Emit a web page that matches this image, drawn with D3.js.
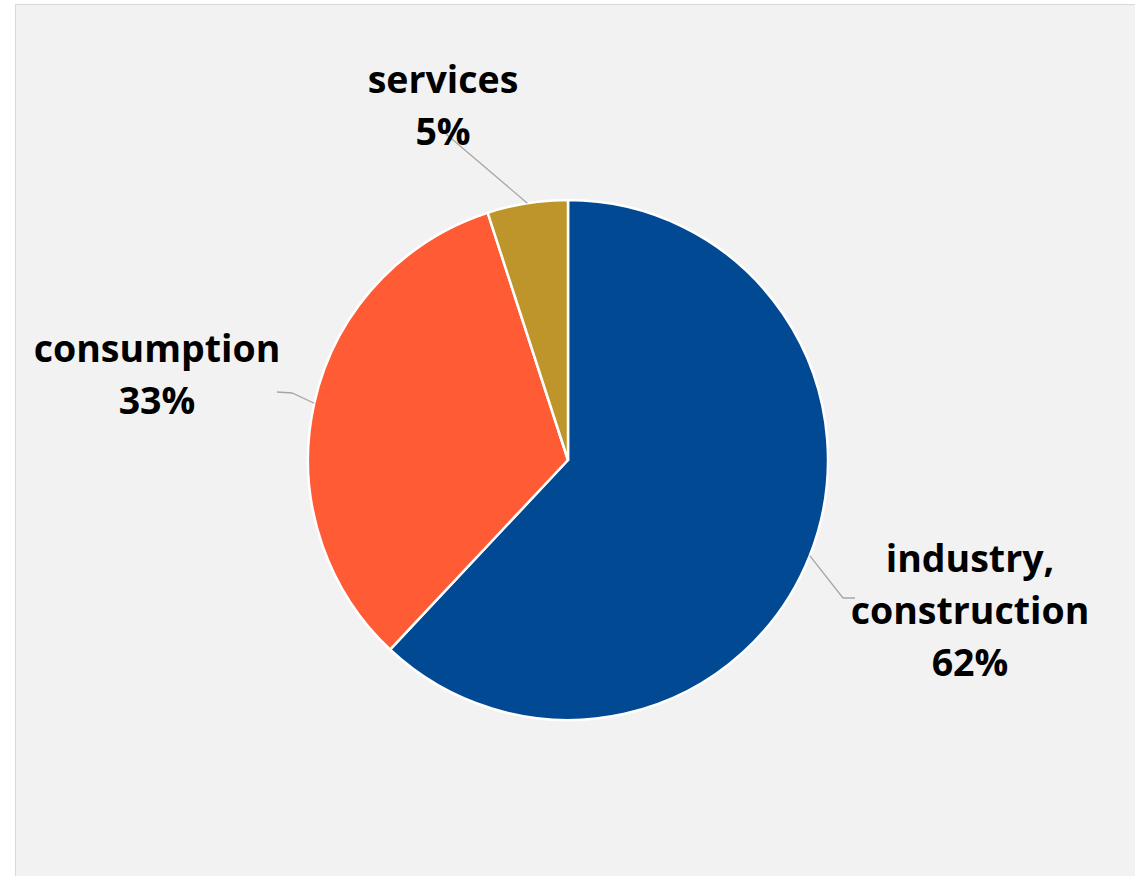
<!DOCTYPE html>
<html>
<head>
<meta charset="utf-8">
<script src="https://cdn.jsdelivr.net/npm/d3@7"></script>
<style>
  html, body { margin: 0; padding: 0; background: #ffffff; }
  svg { display: block; }
  .lbl { font-family: "Open Sans", "Noto Sans", sans-serif; font-weight: 700; fill: #000; }
</style>
</head>
<body>
<svg id="chart" width="1135" height="876"></svg>
<script>
// Share of energy use by sector
const categories = ["industry, construction", "consumption", "services"];
const shares = [62, 33, 5];
const labelLines = [["industry,", "construction", "62%"], ["consumption", "33%"], ["services", "5%"]];
const colors = ["#014a93", "#ff5b35", "#bd952a"];

const W = 1135, H = 876;
const cx = 568, cy = 460, R = 260;
const svg = d3.select("#chart");

// panel
svg.append("rect")
  .attr("x", 15.5).attr("y", 4.5)
  .attr("width", W + 10).attr("height", H + 10)
  .attr("fill", "#f2f2f2").attr("stroke", "#d9d9d9").attr("stroke-width", 1);

const data = categories.map((c, i) => ({ name: c, value: shares[i], lines: labelLines[i], color: colors[i] }));

const pie = d3.pie().sort(null).value(d => d.value).startAngle(0).endAngle(2 * Math.PI);
const arcs = pie(data);
const arc = d3.arc().innerRadius(0).outerRadius(R);

const g = svg.append("g").attr("transform", `translate(${cx},${cy})`);
g.selectAll("path.slice").data(arcs).enter().append("path")
  .attr("class", "slice")
  .attr("d", arc)
  .attr("fill", d => d.data.color)
  .attr("stroke", "#ffffff").attr("stroke-width", 2.5).attr("stroke-linejoin", "round");

// label placement (absolute, relative to svg) and leader elbows
const labelPos = {
  "industry, construction": { x: 970, y: 572, pts: [[843, 598], [855, 598]] },
  "consumption": { x: 157, y: 362, pts: [[292, 393], [277, 392]] },
  "services": { x: 443, y: 93, pts: [[446, 134]] }
};

const lineH = 52;
arcs.forEach(a => {
  const p = labelPos[a.data.name];
  const mid = (a.startAngle + a.endAngle) / 2;
  const sx = cx + R * Math.sin(mid), sy = cy - R * Math.cos(mid);
  const pts = [[sx, sy]].concat(p.pts);
  svg.append("path")
    .attr("d", d3.line()(pts))
    .attr("fill", "none").attr("stroke", "#a6a6a6").attr("stroke-width", 1.3);
  const t = svg.append("text").attr("class", "lbl")
    .attr("text-anchor", "middle").attr("font-size", 37.5);
  a.data.lines.forEach((ln, i) => {
    t.append("tspan").attr("x", p.x).attr("y", p.y + i * lineH).text(ln);
  });
});
</script>
</body>
</html>
